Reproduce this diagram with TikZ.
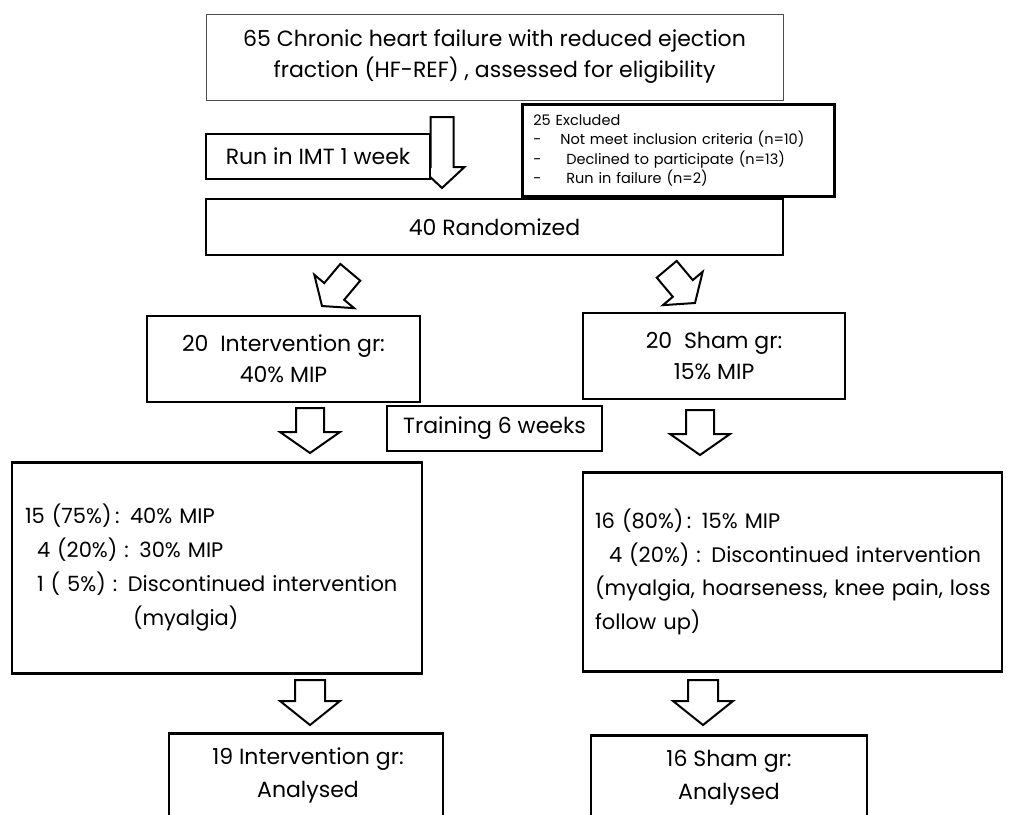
\documentclass[tikz,border=0pt]{standalone}
\usepackage{fontspec}
\setmainfont{Poppins}
\newcommand\myblockarrow[7]{%
  \begin{scope}[shift={(#1,#2)},rotate=#3]
    \draw[blk] (-#6,-#4) -- (#6,-#4) -- (#6,-#5) -- (#7,-#5) -- (0,0) -- (-#7,-#5) -- (-#6,-#5) -- cycle;
  \end{scope}}
\begin{document}
\begin{tikzpicture}[x=1pt,y=-1pt,
  box/.style={draw=black, line width=2.8pt, fill=white, inner sep=0pt, align=center,
    font=\fontsize{22}{31}\selectfont},
  blk/.style={draw=black, line width=2pt, fill=white, line join=miter}]
\useasboundingbox (0,0) rectangle (1014,814);
\clip (0,0) rectangle (1014,814);

% top box
\node[box, draw=black!70, line width=0.9pt, minimum width=577pt, minimum height=86pt]
  (top) at (494.5,57) {65 Chronic heart failure with reduced ejection\\fraction (HF-REF) , assessed for eligibility};

% big arrow
\myblockarrow{442}{188}{0}{71}{21}{11.5}{22.5}

% run in
\node[box, minimum width=224pt, minimum height=45pt] (run) at (318,156.5) {Run in IMT 1 week};

% excluded
\node[box, minimum width=311pt, minimum height=92pt, align=left, anchor=north west,
  font=\fontsize{14.5}{19.5}\selectfont, text width=290pt, inner xsep=11pt, inner ysep=6pt]
  (excl) at (521,103) {25 Excluded\\
  \makebox[27pt][l]{-}Not meet inclusion criteria (n=10)\\
  \makebox[33pt][l]{-}Declined to participate (n=13)\\
  \makebox[33pt][l]{-}Run in failure (n=2)};

% randomized
\node[box, minimum width=577pt, minimum height=56pt] (rand) at (494.5,227) {40 Randomized};

% diagonal arrows
\myblockarrow{322}{306}{-40}{44}{19}{13}{26}
\myblockarrow{695}{303}{40}{44}{19}{13}{26}

% groups
\node[box, minimum width=273pt, minimum height=86pt] (int) at (283.5,359) {20\ \ Intervention gr:\\40\% MIP};
\node[box, minimum width=262pt, minimum height=86pt] (sham) at (714,356) {20\ \ Sham gr:\\15\% MIP};

% arrows to big boxes
\myblockarrow{310}{453}{0}{45}{21}{14}{30}
\myblockarrow{700}{455}{0}{45}{21}{14}{30}

\node[box, minimum width=215pt, minimum height=45pt] (train) at (494.5,428.5) {Training 6 weeks};

% big boxes
\node[box, minimum width=410pt, minimum height=211pt, align=left,
  font=\fontsize{21}{34}\selectfont, text width=384pt, inner xsep=13pt]
  (bigL) at (217,568) {\mbox{15 (75\%)\,: 40\% MIP}\\
  \mbox{\hspace*{12pt}4 (20\%) : 30\% MIP}\\
  \mbox{\hspace*{12pt}1 ( 5\%) : Discontinued intervention}\\
  \mbox{\hspace*{108pt}(myalgia)}};
\node[box, minimum width=419pt, minimum height=199pt, align=left,
  font=\fontsize{21}{33.5}\selectfont, text width=395pt, inner xsep=12pt]
  (bigR) at (792.5,572) {\mbox{16 (80\%)\,: 15\% MIP}\\
  \mbox{\hspace*{14pt}4 (20\%) : Discontinued intervention}\\
  \mbox{(myalgia, hoarseness, knee pain, loss}\\
  \mbox{follow up)}};

% arrows to analysed
\myblockarrow{310}{725}{0}{45}{24}{15}{30}
\myblockarrow{703}{725}{0}{45}{24}{15}{30}

% analysed
\node[box, minimum width=274pt, minimum height=110pt, anchor=north] (anL) at (306,732) {};
\node[box, minimum width=276pt, minimum height=110pt, anchor=north] (anR) at (729,734) {};
\node[font=\fontsize{22}{33}\selectfont, align=center, anchor=north, inner sep=0pt] (anLt) at (308,748) {19 Intervention gr:\\Analysed};
\node[font=\fontsize{22}{33}\selectfont, align=center, anchor=north, inner sep=0pt] (anRt) at (729,750) {16 Sham gr:\\Analysed};
\end{tikzpicture}
\end{document}
